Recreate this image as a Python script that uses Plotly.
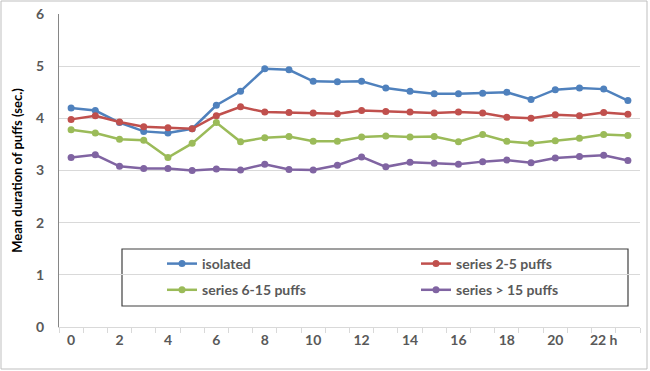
import plotly.graph_objects as go

hours = [str(h) for h in range(24)]
tick_labels = ["0", "", "2", "", "4", "", "6", "", "8", "", "10", "", "12", "", "14", "", "16", "", "18", "", "20", "", "22 h", ""]

isolated = [4.20, 4.15, 3.92, 3.75, 3.72, 3.80, 4.25, 4.52, 4.95, 4.93, 4.71, 4.70, 4.71, 4.58, 4.52, 4.47, 4.47, 4.48, 4.50, 4.36, 4.55, 4.58, 4.56, 4.34]
series_2_5 = [3.98, 4.05, 3.93, 3.84, 3.82, 3.80, 4.05, 4.22, 4.12, 4.11, 4.10, 4.09, 4.15, 4.13, 4.12, 4.10, 4.12, 4.10, 4.02, 4.00, 4.07, 4.05, 4.11, 4.08]
series_6_15 = [3.78, 3.72, 3.60, 3.58, 3.25, 3.52, 3.92, 3.55, 3.63, 3.65, 3.56, 3.56, 3.64, 3.66, 3.64, 3.65, 3.55, 3.69, 3.56, 3.52, 3.57, 3.62, 3.69, 3.67]
series_15 = [3.25, 3.30, 3.08, 3.04, 3.04, 3.00, 3.03, 3.01, 3.12, 3.02, 3.01, 3.10, 3.26, 3.07, 3.16, 3.14, 3.12, 3.17, 3.20, 3.15, 3.24, 3.27, 3.29, 3.19]

names = ["isolated", "series 2-5 puffs", "series 6-15 puffs", "series > 15 puffs"]
colors = ["#4F81BD", "#C0504D", "#9BBB59", "#8064A2"]
data = [isolated, series_2_5, series_6_15, series_15]
legend_ids = ["legend", "legend2", "legend", "legend2"]

fig = go.Figure()
for n, c, d, lg in zip(names, colors, data, legend_ids):
    fig.add_trace(go.Scatter(x=hours, y=d, name=n, mode="lines+markers",
                             line=dict(color=c, width=2.5),
                             marker=dict(color=c, size=7),
                             legend=lg, legendgroup=n))

font = "Lato, 'Open Sans', sans-serif"
leg_font = dict(family=font, size=14, color="#595959", weight="bold")
leg_common = dict(orientation="v", xanchor="left", yanchor="top", font=leg_font,
                  bgcolor="rgba(0,0,0,0)", borderwidth=0, tracegroupgap=5)

fig.update_layout(
    width=650, height=371,
    margin=dict(l=59, r=10, t=14, b=44, autoexpand=False),
    paper_bgcolor="white", plot_bgcolor="white",
    font=dict(family=font, size=13, color="#595959"),
    showlegend=True,
    legend=dict(x=(162-59)/581, y=(327-248)/313, **leg_common),
    legend2=dict(x=(416-59)/581, y=(327-248)/313, **leg_common),
    xaxis=dict(type="category", tickmode="array", tickvals=hours, ticktext=tick_labels,
               tickson="boundaries", ticks="outside", ticklen=5, tickcolor="#d9d9d9",
               tickangle=0, automargin=False,
               showline=True, linecolor="#d9d9d9", linewidth=1, showgrid=False,
               tickfont=dict(family=font, size=14, color="#595959", weight="bold"),
               range=[-0.5, 23.5]),
    yaxis=dict(range=[0, 6], dtick=1, showgrid=True, gridcolor="#d9d9d9",
               showline=True, linecolor="#868686", linewidth=1, zeroline=False,
               automargin=False, ticklabelstandoff=11,
               tickfont=dict(family=font, size=14, color="#595959", weight="bold"),
               title=dict(text="Mean duration of puffs (sec.)", standoff=10,
                          font=dict(family=font, size=13, color="#000000", weight="bold"))),
    shapes=[
        dict(type="rect", xref="paper", yref="paper", x0=(122-59)/581, x1=(628-59)/581,
             y0=(327-306)/313, y1=(327-249)/313, line=dict(color="#404040", width=1.2),
             fillcolor="white", layer="between"),
        dict(type="rect", xref="paper", yref="paper", x0=(1-59)/581, x1=(647-59)/581,
             y0=(327-369)/313, y1=(327-1)/313, line=dict(color="#bfbfbf", width=1)),
    ],
)

fig.write_html("out.html", config={"displayModeBar": False},
               post_script="document.body.style.margin='0';")
